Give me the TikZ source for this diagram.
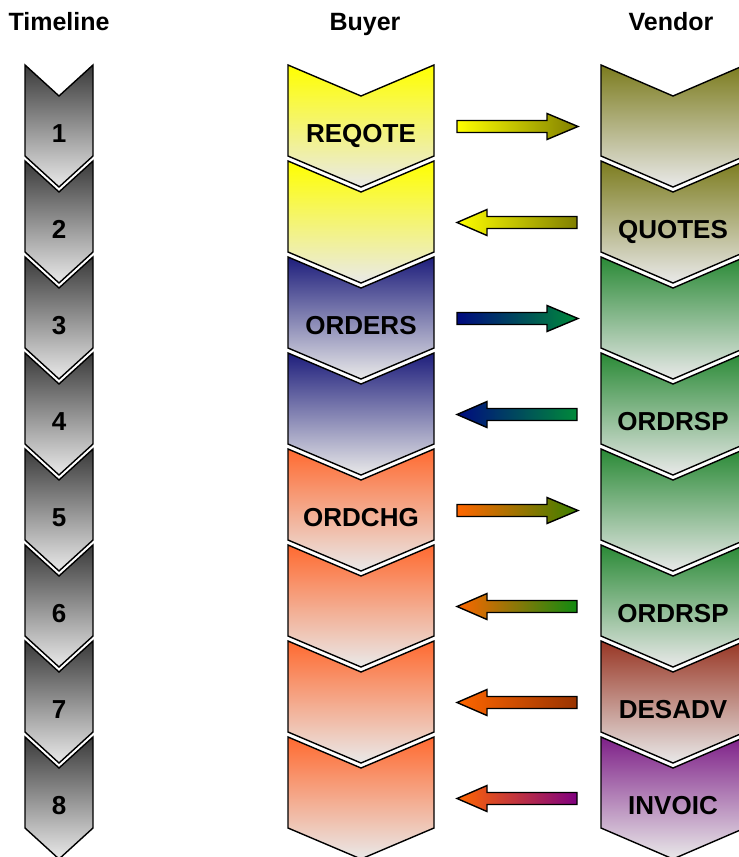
\documentclass[tikz,border=0pt]{standalone}
\usepackage{fontspec}
\setmainfont{Liberation Sans}
\definecolor{lightend}{HTML}{E9E9E9}
\definecolor{tltop}{HTML}{3A3A3A}
\definecolor{ylwtop}{HTML}{FFFF00}
\definecolor{navytop}{HTML}{1E1E7C}
\definecolor{orgtop}{HTML}{FF6A30}
\definecolor{olivetop}{HTML}{7C7C1E}
\definecolor{greentop}{HTML}{2A8A36}
\definecolor{browntop}{HTML}{983624}
\definecolor{purpletop}{HTML}{7E2088}
\definecolor{arYellow}{HTML}{FFFF00}
\definecolor{arOlive}{HTML}{807F00}
\definecolor{arNavy}{HTML}{000A80}
\definecolor{arGreen}{HTML}{008A3A}
\definecolor{arOrange}{HTML}{FF6600}
\definecolor{arOliveGreen}{HTML}{3A8000}
\definecolor{arGreenB}{HTML}{108A10}
\definecolor{arBrown}{HTML}{993300}
\definecolor{arPurple}{HTML}{800080}
\tikzset{
  chevstyle/.style={draw=black, line width=1.4pt, line join=miter},
  blockarrow/.style={draw=black, line width=1.4pt, line join=miter},
  headtext/.style={font=\bfseries\fontsize{25}{30}\selectfont, inner sep=0pt, anchor=base},
  labeltext/.style={font=\bfseries\fontsize{26}{30}\selectfont, inner sep=0pt, anchor=base},
}
% #1 centre x, #2 half width, #3 top y, #4 top colour
\newcommand\mychev[4]{%
  \path[chevstyle, top color=#4, bottom color=lightend]
    (#1-#2,#3) -- (#1,#3+31) -- (#1+#2,#3) -- (#1+#2,#3+91)
    -- (#1,#3+122) -- (#1-#2,#3+91) -- cycle;}
% right-pointing arrow: #1 centre y, #2 left colour, #3 right colour
\newcommand\myarrowR[3]{%
  \path[blockarrow, left color=#2, right color=#3]
    (457,#1-6) -- (547,#1-6) -- (547,#1-13) -- (578,#1) -- (547,#1+13)
    -- (547,#1+6) -- (457,#1+6) -- cycle;}
\newcommand\myarrowL[3]{%
  \path[blockarrow, left color=#2, right color=#3]
    (577,#1-6) -- (487,#1-6) -- (487,#1-13) -- (457,#1) -- (487,#1+13)
    -- (487,#1+6) -- (577,#1+6) -- cycle;}
\begin{document}
\begin{tikzpicture}[x=1pt, y=-1pt]
\useasboundingbox (0,0) rectangle (739,857);
\clip (0,0) rectangle (739,857);
\fill[white] (0,0) rectangle (739,857);
% headers
\node[headtext] (hTimeline) at (59,30) {Timeline};
\node[headtext] (hBuyer) at (365,30) {Buyer};
\node[headtext] (hVendor) at (671,30) {Vendor};
% timeline
\foreach \i in {1,...,8}{
  \pgfmathsetmacro\T{65+96*(\i-1)}
  \mychev{59}{34}{\T}{tltop}
  \node[labeltext] (t\i) at (59,\T+77) {\i};
}
% buyer
\foreach \i/\c in {1/ylwtop,2/ylwtop,3/navytop,4/navytop,5/orgtop,6/orgtop,7/orgtop,8/orgtop}{
  \pgfmathsetmacro\T{65+96*(\i-1)}
  \mychev{361}{73}{\T}{\c}
}
% vendor
\foreach \i/\c in {1/olivetop,2/olivetop,3/greentop,4/greentop,5/greentop,6/greentop,7/browntop,8/purpletop}{
  \pgfmathsetmacro\T{65+96*(\i-1)}
  \mychev{673}{72}{\T}{\c}
}
% buyer labels
\node[labeltext] (bREQOTE) at (361,142) {REQOTE};
\node[labeltext] (bORDERS) at (361,334) {ORDERS};
\node[labeltext] (bORDCHG) at (361,526) {ORDCHG};
% vendor labels
\node[labeltext] (vQUOTES) at (673,238) {QUOTES};
\node[labeltext] (vORDRSP) at (673,430) {ORDRSP};
\node[labeltext] (vORDRSPb) at (673,622) {ORDRSP};
\node[labeltext] (vDESADV) at (673,718) {DESADV};
\node[labeltext] (vINVOIC) at (673,814) {INVOIC};
% arrows
\myarrowR{126.5}{arYellow}{arOlive}
\myarrowL{222.5}{arYellow}{arOlive}
\myarrowR{318.5}{arNavy}{arGreen}
\myarrowL{414.5}{arNavy}{arGreen}
\myarrowR{510.5}{arOrange}{arOliveGreen}
\myarrowL{606.5}{arOrange}{arGreenB}
\myarrowL{702.5}{arOrange}{arBrown}
\myarrowL{798.5}{arOrange}{arPurple}
\end{tikzpicture}
\end{document}
